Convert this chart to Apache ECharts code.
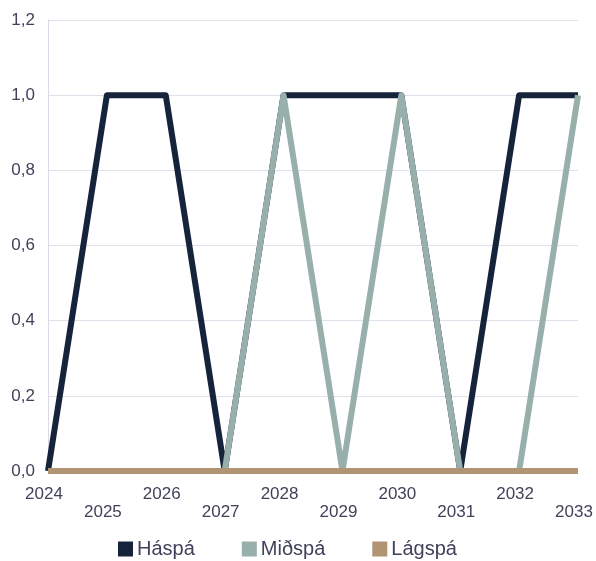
<!DOCTYPE html>
<html>
<head>
<meta charset="utf-8">
<script src="https://cdn.jsdelivr.net/npm/echarts@6/dist/echarts.min.js"></script>
<style>
  html, body { margin: 0; padding: 0; background: #fff; }
  #chart { width: 596px; height: 561px; }
</style>
</head>
<body>
<div id="chart"></div>
<script>
  var years = ['2024', '2025', '2026', '2027', '2028', '2029', '2030', '2031', '2032', '2033'];
  var haspa = [0, 1, 1, 0, 1, 1, 1, 0, 1, 1];
  var midspa = [0, 0, 0, 0, 1, 0, 1, 0, 0, 1];
  var lagspa = [0, 0, 0, 0, 0, 0, 0, 0, 0, 0];

  var textColor = '#41425a';
  var font = 'Liberation Sans, Arial, sans-serif';

  function line(name, data, color) {
    return {
      name: name,
      type: 'line',
      data: data,
      symbol: 'none',
      lineStyle: { width: 6, color: color, join: 'round' },
      itemStyle: { color: color },
      emphasis: { disabled: true }
    };
  }

  var myChart = echarts.init(document.getElementById('chart'));
  myChart.setOption({
    animation: false,
    grid: { left: 48, right: 18, top: 20, bottom: 90, outerBoundsMode: 'none', containLabel: false },
    legend: {
      top: 539,
      left: 118,
      itemWidth: 15,
      itemHeight: 15,
      itemGap: 47,
      icon: 'rect',
      padding: 0,
      textStyle: { color: textColor, fontSize: 20, fontFamily: font, padding: [0, 0, 0, -1] },
      data: ['Háspá', 'Miðspá', 'Lágspá']
    },
    xAxis: {
      type: 'category',
      data: years,
      boundaryGap: false,
      axisLine: { show: false },
      axisTick: { show: false },
      axisLabel: {
        color: textColor,
        fontSize: 17,
        fontFamily: font,
        margin: 14,
        interval: 0,
        lineHeight: 18,
        padding: [0, 8, 0, 0],
        formatter: function (v, i) { return i % 2 === 1 ? '\n' + v : v; }
      }
    },
    yAxis: {
      type: 'value',
      min: 0,
      max: 1.2,
      interval: 0.2,
      axisLine: { show: true, lineStyle: { color: '#d9d9e8', width: 1 } },
      axisTick: { show: false },
      splitLine: { lineStyle: { color: '#e0e0ea', width: 1 } },
      axisLabel: {
        color: textColor,
        fontSize: 17,
        fontFamily: font,
        margin: 13,
        formatter: function (v) { return v.toFixed(1).replace('.', ','); }
      }
    },
    series: [
      line('Háspá', haspa, '#15243b'),
      line('Miðspá', midspa, '#97b0ac'),
      line('Lágspá', lagspa, '#b09474')
    ]
  });
</script>
</body>
</html>
